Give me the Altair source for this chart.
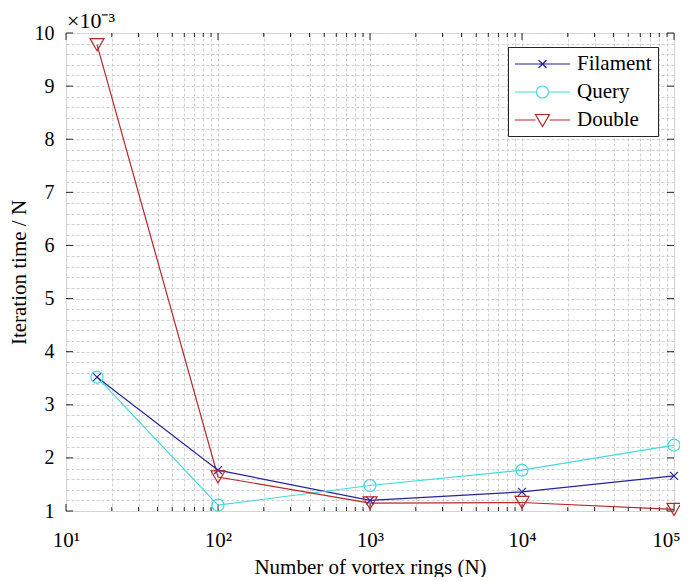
import altair as alt
import pandas as pd

# ---- data ----
N = [16, 100, 1000, 10000, 100000]
filament = [3.52, 1.77, 1.20, 1.36, 1.66]
query = [3.52, 1.11, 1.48, 1.77, 2.24]
double = [9.78, 1.64, 1.15, 1.16, 1.03]
series_names = ["Filament", "Query", "Double"]
series_colors = ["#23239b", "#40dcdc", "#b8262b"]

x_major = [10, 100, 1000, 10000, 100000]
x_minor = [m * d for d in [10, 100, 1000, 10000] for m in range(2, 10)]
y_major = list(range(1, 11))
y_minor = [round(1 + 0.2 * i, 1) for i in range(46)]

W, H = 608, 478
FONT = "Liberation Serif"
FRAME = "#262626"
GRID = "#cfcfcf"

rows = []
for name, vals in zip(series_names, [filament, query, double]):
    for n, v in zip(N, vals):
        rows.append({"N": n, "value": v, "series": name})
df = pd.DataFrame(rows)

xscale = alt.Scale(type="log", domain=[10, 100000], nice=False)
yscale = alt.Scale(domain=[1, 10], nice=False, zero=False)

x_label_expr = ("datum.value == 10 ? '10¹' : datum.value == 100 ? '10²' : "
                "datum.value == 1000 ? '10³' : datum.value == 10000 ? '10⁴' : "
                "datum.value == 100000 ? '10⁵' : ''")

x_axis = alt.Axis(values=sorted(x_major + x_minor), labelExpr=x_label_expr,
                  grid=True, gridDash=[3, 2], gridColor=GRID, gridWidth=1,
                  ticks=False, tickSize=0, domain=False, labelOverlap=False,
                  labelFlush=False, labelFont=FONT, labelFontSize=21,
                  labelColor="black", labelPadding=18,
                  labelOffset={"condition": {"test": "datum.value == 100000", "value": -8}, "value": 0},
                  title="Number of vortex rings (N)", titleFont=FONT,
                  titleFontSize=21, titleFontWeight="normal", titleColor="black",
                  titlePadding=6)
y_axis = alt.Axis(values=y_minor,
                  labelExpr="datum.value == round(datum.value) ? format(datum.value, 'd') : ''",
                  grid=True, gridDash=[3, 2], gridColor=GRID, gridWidth=1,
                  ticks=False, tickSize=0, domain=False, labelOverlap=False,
                  labelFont=FONT, labelFontSize=20, labelColor="black",
                  labelPadding=12, title="Iteration time / N", titleFont=FONT,
                  titleFontSize=21, titleFontWeight="normal", titleColor="black",
                  titlePadding=5)

X = alt.X("N:Q", scale=xscale, axis=x_axis)
Y = alt.Y("value:Q", scale=yscale, axis=y_axis)

marker_shapes = ["M-1,-1L1,1M-1,1L1,-1", "circle", "triangle-down"]
marker_sizes = [64, 144, 196]
line_layers = []
point_layers = []
for name, col, shp, sz in zip(series_names, series_colors, marker_shapes, marker_sizes):
    base = alt.Chart(df).transform_filter(alt.datum.series == name)
    line_layers.append(base.mark_line(strokeWidth=1.2, color=col).encode(x=X, y=Y))
    point_layers.append(
        base.mark_point(shape=shp, size=sz, filled=False, strokeWidth=1.2, color=col, opacity=1)
        .encode(x=X, y=Y)
    )

# inward ticks
tx_major = pd.DataFrame({"N": x_major})
tx_minor = pd.DataFrame({"N": x_minor})
ty_major = pd.DataFrame({"value": y_major})


def xticks(data, y0, y1):
    return alt.Chart(data).mark_rule(color=FRAME, strokeWidth=1).encode(
        x=X, y=alt.value(y0), y2=alt.value(y1))


def yticks(data, x0, x1):
    return alt.Chart(data).mark_rule(color=FRAME, strokeWidth=1).encode(
        y=Y, x=alt.value(x0), x2=alt.value(x1))


tick_layers = [
    xticks(tx_major, H, H - 7), xticks(tx_major, 0, 7),
    xticks(tx_minor, H, H - 4), xticks(tx_minor, 0, 4),
    yticks(ty_major, 0, 7), yticks(ty_major, W, W - 7),
]

# legend (line + marker symbols), unit = 10 px at symbolSize 400
legend_paths = [
    "M-1,0H4.5M1.35,-0.4L2.15,0.4M1.35,0.4L2.15,-0.4",
    "M-1,0H1.15M2.35,0H4.5M2.35,0A0.6,0.6,0,1,1,1.15,0A0.6,0.6,0,1,1,2.35,0",
    "M-1,0H1.05M2.45,0H4.5M1.05,-0.55L2.45,-0.55L1.75,0.65Z",
]
leg = alt.Legend(title=None, orient="none", legendX=442, legendY=14,
                 strokeColor=FRAME, fillColor="white", padding=6,
                 labelFont=FONT, labelFontSize=21, labelColor="black",
                 labelOffset=41, symbolSize=400, symbolStrokeWidth=1.2,
                 rowPadding=7, cornerRadius=0)
legend_layer = alt.Chart(df).mark_point(
    filled=False, strokeWidth=1.2, size=400, opacity=0).encode(
    x=X, y=Y,
    color=alt.Color("series:N", scale=alt.Scale(domain=series_names, range=series_colors), legend=leg),
    shape=alt.Shape("series:N", scale=alt.Scale(domain=series_names, range=legend_paths), legend=leg),
)

chart = alt.layer(*tick_layers, *line_layers, *point_layers, legend_layer).properties(
    width=W, height=H,
    padding={"left": 58, "top": 25, "right": 6, "bottom": 66},
    autosize=alt.AutoSizeParams(type="none"),
    title=alt.Title("×10⁻³", anchor="start", frame="group", font=FONT, fontSize=22,
                    fontWeight="normal", color="black", offset=5, dx=1, dy=15),
).configure_view(stroke=FRAME, strokeWidth=1).configure(font=FONT, background="white")

chart.save("out.html", embed_options={"renderer": "svg", "actions": False})
